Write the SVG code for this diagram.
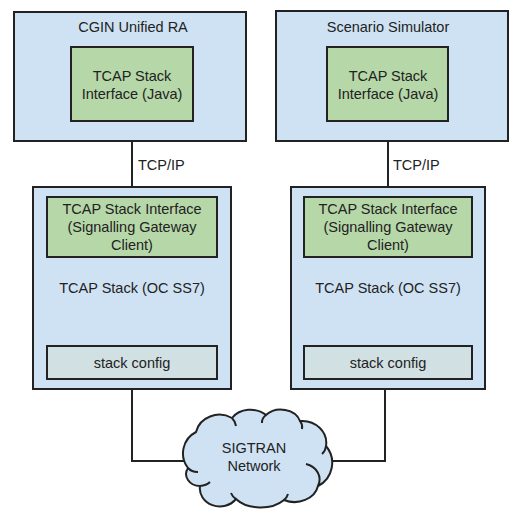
<svg xmlns="http://www.w3.org/2000/svg" width="532" height="517" viewBox="0 0 532 517">
<style>
.box{fill:#cfe2f3;stroke:#222;stroke-width:2}
.green{fill:#b6d7a8;stroke:#222;stroke-width:2}
.cfg{fill:#d0e0e3;stroke:#222;stroke-width:2}
.conn{fill:none;stroke:#222;stroke-width:2}
text{font-family:"Liberation Sans",Arial,sans-serif;font-size:14.5px;fill:#222;text-anchor:middle}
.l{text-anchor:start}
</style>
<rect width="532" height="517" fill="#fff"/>
<g id="connectors">
<path class="conn" d="M132 121V197"/>
<path class="conn" d="M388 121V197"/>
<path class="conn" d="M132 389V461H186"/>
<path class="conn" d="M385 389V461H332"/>
<text class="l" x="138" y="170">TCP/IP</text>
<text class="l" x="393" y="170">TCP/IP</text>
</g>
<g id="cgin">
<rect class="box" x="14" y="12" width="232" height="129"/>
<text x="133" y="32">CGIN Unified RA</text>
</g>
<g id="cgin-java">
<rect class="green" x="71" y="47" width="122" height="74"/>
<text x="132" y="81">TCAP Stack</text>
<text x="132" y="99">Interface (Java)</text>
</g>
<g id="simulator">
<rect class="box" x="276" y="11" width="232" height="130"/>
<text x="388" y="32">Scenario Simulator</text>
</g>
<g id="sim-java">
<rect class="green" x="327" y="47" width="121" height="74"/>
<text x="388" y="81">TCAP Stack</text>
<text x="388" y="99">Interface (Java)</text>
</g>
<g id="stack-left">
<rect class="box" x="33" y="187" width="198" height="202"/>
<text x="132" y="293">TCAP Stack (OC SS7)</text>
</g>
<g id="sgc-left">
<rect class="green" x="47" y="197" width="170" height="60"/>
<text x="132" y="214">TCAP Stack Interface</text>
<text x="132" y="232">(Signalling Gateway</text>
<text x="132" y="250">Client)</text>
</g>
<g id="config-left">
<rect class="cfg" x="47" y="346" width="170" height="33"/>
<text x="132" y="368">stack config</text>
</g>
<g id="stack-right">
<rect class="box" x="291" y="187" width="194" height="202"/>
<text x="388" y="293">TCAP Stack (OC SS7)</text>
</g>
<g id="sgc-right">
<rect class="green" x="304" y="197" width="168" height="60"/>
<text x="388" y="214">TCAP Stack Interface</text>
<text x="388" y="232">(Signalling Gateway</text>
<text x="388" y="250">Client)</text>
</g>
<g id="config-right">
<rect class="cfg" x="304" y="346" width="168" height="33"/>
<text x="388" y="368">stack config</text>
</g>
<g id="sigtran">
<path class="box" d="M188 468 A24 24 0 0 1 196 432 A24 22 0 0 1 232 418 A22 18 0 0 1 266 415 A20 16 0 0 1 300 421 A24 22 0 0 1 326 446 A26 26 0 0 1 318 486 A24 20 0 0 1 284 500 A30 20 0 0 1 236 499 A20 18 0 0 1 200 486 A14 12 0 0 1 188 468 Z"/>
<path class="conn" d="M188 468 A12 10 0 0 0 198 472"/>
<path class="conn" d="M200 486 A14 10 0 0 0 210 482"/>
<path class="conn" d="M236 499 A14 12 0 0 1 231 493"/>
<path class="conn" d="M284 500 A12 12 0 0 0 288 494"/>
<path class="conn" d="M318 486 A18 16 0 0 0 306 464"/>
<path class="conn" d="M326 446 A12 12 0 0 1 322 454"/>
<path class="conn" d="M300 421 A10 10 0 0 1 302 429"/>
<path class="conn" d="M266 415 A12 10 0 0 0 262 423"/>
<path class="conn" d="M232 418 A14 14 0 0 1 236 426"/>
<text x="254" y="453">SIGTRAN</text>
<text x="254" y="471">Network</text>
</g>
</svg>
